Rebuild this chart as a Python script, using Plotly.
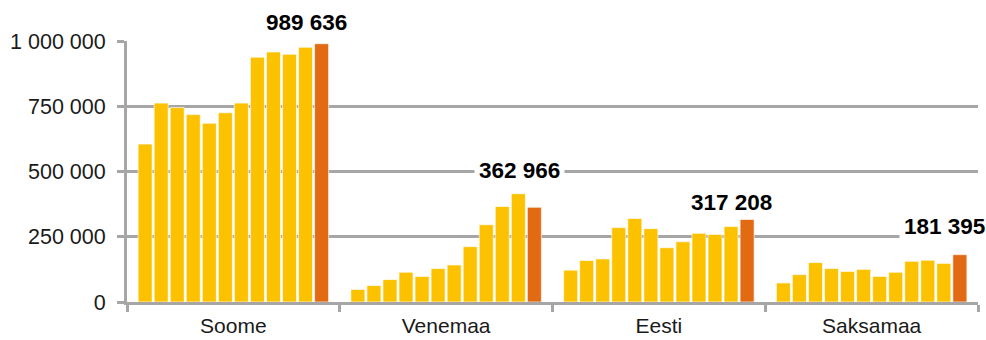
import plotly.graph_objects as go

# ---- data ----
countries = ["Soome", "Venemaa", "Eesti", "Saksamaa"]
soome = [605000, 762000, 745000, 718000, 685000, 725000, 762000, 938000, 958000, 949000, 976000, 989636]
venemaa = [48000, 63000, 86000, 114000, 98000, 128000, 142000, 212000, 296000, 366000, 415000, 362966]
eesti = [122000, 159000, 165000, 285000, 320000, 281000, 208000, 231000, 263000, 259000, 289000, 317208]
saksamaa = [73000, 105000, 151000, 128000, 117000, 125000, 98000, 114000, 156000, 160000, 148000, 181395]
y_ticks = [0, 250000, 500000, 750000, 1000000]

series = [soome, venemaa, eesti, saksamaa]
n_years = len(soome)

# ---- style ----
YELLOW = "#FCC200"
ORANGE = "#E26A12"
GREY = "#A6A6A6"
FONT = "Liberation Sans, Arial, sans-serif"
label_yshift = [21, 37, 17, 28]

fig = go.Figure()
for i in range(n_years):
    fig.add_trace(go.Bar(
        x=countries,
        y=[s[i] for s in series],
        marker=dict(color=ORANGE if i == n_years - 1 else YELLOW,
                    line=dict(color="rgba(255,255,255,0.65)", width=1)),
        showlegend=False,
        hoverinfo="y",
    ))

for k, c in enumerate(countries):
    v = series[k][-1]
    fig.add_annotation(
        x=c, y=v, xref="x", yref="y",
        text="<b>" + f"{v:,}".replace(",", " ") + "</b>",
        showarrow=False, xshift=73, yshift=label_yshift[k],
        yanchor="middle", xanchor="center",
        font=dict(family=FONT, size=22.5, color="#000000"),
        bgcolor="#FFFFFF", borderpad=4,
    )

fig.update_layout(
    width=986, height=340,
    margin=dict(l=127, r=8, t=41, b=37.5, autoexpand=False),
    paper_bgcolor="white", plot_bgcolor="white",
    barmode="group", bargap=0.095, bargroupgap=0.125,
    separators=", ",
    font=dict(family=FONT, size=21.5, color="#1a1a1a"),
    xaxis=dict(
        type="category", range=[-0.5, len(countries) - 0.5],
        showgrid=False, showline=True, linecolor=GREY, linewidth=3,
        ticks="outside", tickson="boundaries", ticklen=7, tickwidth=3, tickcolor=GREY,
        ticklabelstandoff=3, automargin=False,
        tickfont=dict(family=FONT, size=21, color="#1a1a1a"),
    ),
    yaxis=dict(
        range=[0, 1000000], tickvals=y_ticks, tickformat=",d",
        showgrid=True, gridcolor=GREY, gridwidth=3,
        showline=True, linecolor=GREY, linewidth=3,
        ticks="outside", ticklen=7, tickwidth=3, tickcolor=GREY,
        ticklabelstandoff=7, automargin=False,
        zeroline=False,
        tickfont=dict(family=FONT, size=21.5, color="#1a1a1a"),
    ),
)

fig.write_html("out.html", config={"displayModeBar": False},
               post_script="document.body.style.margin='0px';")
